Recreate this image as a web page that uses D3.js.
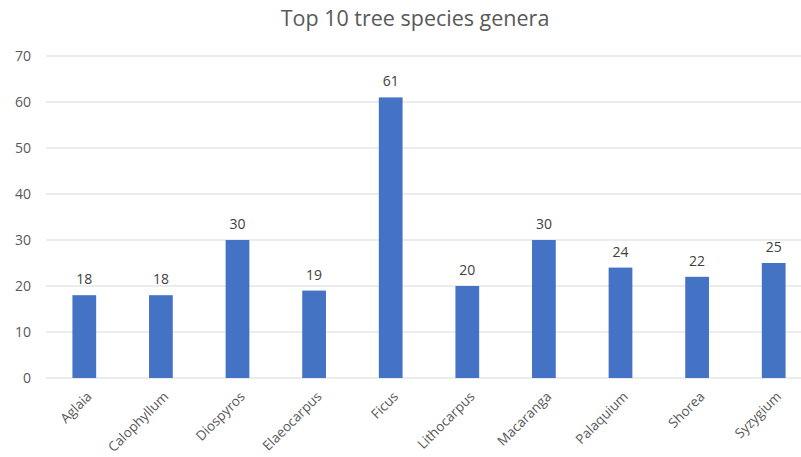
<!DOCTYPE html>
<html>
<head>
<meta charset="utf-8">
<script src="https://cdn.jsdelivr.net/npm/d3@7"></script>
<style>
  body { margin: 0; background: #fff; }
  svg { font-family: "Open Sans", "Liberation Sans", sans-serif; }
  .grid line { stroke: #d9d9d9; stroke-width: 1; }
</style>
</head>
<body>
<svg width="801" height="457"></svg>
<script>
const genera = ['Aglaia', 'Calophyllum', 'Diospyros', 'Elaeocarpus', 'Ficus',
    'Lithocarpus', 'Macaranga', 'Palaquium', 'Shorea', 'Syzygium'];
const counts = [18, 18, 30, 19, 61, 20, 30, 24, 22, 25];
const yTicks = [0, 10, 20, 30, 40, 50, 60, 70];

const svg = d3.select('svg');

var x = d3.scaleBand()
    .domain(genera)
    .range([46, 812])
    .paddingInner(0.69)
    .paddingOuter(0.345);

var y = d3.scaleLinear()
    .domain([0, 70])
    .range([378, 56]);

// title
svg.append('text')
    .attr('x', 415)
    .attr('y', 26)
    .attr('text-anchor', 'middle')
    .style('font-size', '21.5px')
    .style('fill', '#595959')
    .text('Top 10 tree species genera');

// gridlines
svg.append('g')
    .attr('class', 'grid')
    .selectAll('line')
    .data(yTicks)
    .enter()
    .append('line')
    .attr('x1', 46)
    .attr('x2', 801)
    .attr('y1', d => y(d))
    .attr('y2', d => y(d));

// y axis labels
var yAxis = d3.axisLeft(y).tickValues(yTicks).tickSize(0).tickPadding(0);
svg.append('g')
    .attr('transform', 'translate(31,0)')
    .call(yAxis)
    .call(g => g.select('.domain').remove())
    .selectAll('text')
    .style('font-size', '14px')
    .style('font-family', '"Open Sans", sans-serif')
    .style('fill', '#595959');

// bars
svg.selectAll('rect.bar')
    .data(counts)
    .enter()
    .append('rect')
    .attr('class', 'bar')
    .attr('x', (d, i) => x(genera[i]))
    .attr('width', x.bandwidth())
    .attr('y', d => y(d))
    .attr('height', d => y(0) - y(d))
    .style('fill', '#4472c4');

// value labels
svg.selectAll('text.val')
    .data(counts)
    .enter()
    .append('text')
    .attr('class', 'val')
    .attr('x', (d, i) => x(genera[i]) + x.bandwidth() / 2)
    .attr('y', d => y(d) - 11)
    .attr('text-anchor', 'middle')
    .style('font-size', '14px')
    .style('fill', '#404040')
    .text(d => d);

// x axis
var xAxis = d3.axisBottom(x).tickSize(0).tickPadding(0);
svg.append('g')
    .attr('transform', 'translate(0,378)')
    .call(xAxis)
    .call(g => g.select('.domain').remove())
    .selectAll('text')
    .style('font-size', '13.5px')
    .style('font-family', '"Open Sans", sans-serif')
    .style('fill', '#595959')
    .attr('text-anchor', 'end')
    .attr('y', 0)
    .attr('dy', '0.35em')
    .attr('transform', 'translate(5,16) rotate(-45)');
</script>
</body>
</html>
